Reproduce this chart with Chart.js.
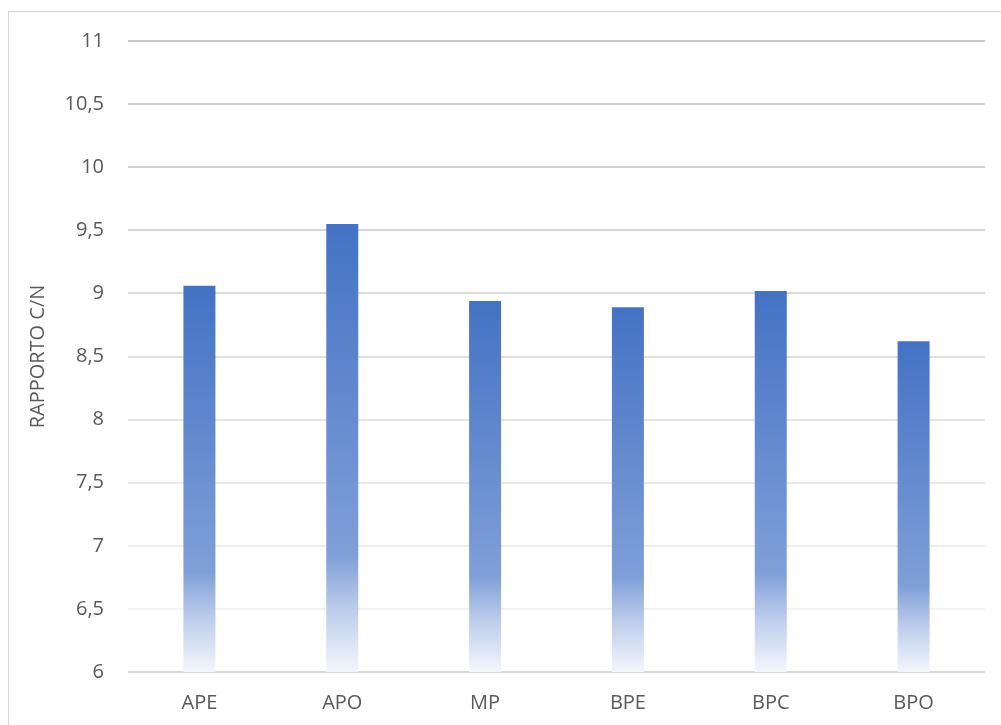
<!DOCTYPE html>
<html>
<head>
<meta charset="utf-8">
<script src="https://cdn.jsdelivr.net/npm/chart.js@4.4.1/dist/chart.umd.min.js"></script>
<style>
  html, body { margin: 0; padding: 0; width: 1001px; height: 725px; overflow: hidden; background: #fff; }
  #frame { position: absolute; left: 8px; top: 11px; width: 1100px; height: 800px;
           border-left: 1px solid #d6d6d6; border-top: 1px solid #d6d6d6; }
  #wrap { position: absolute; left: 0; top: 0; width: 1001px; height: 725px; }
</style>
</head>
<body>
<div id="frame"></div>
<div id="wrap"><canvas id="chart"></canvas></div>
<script>
// Sample categories and their C/N ratio
const categories = ['APE', 'APO', 'MP', 'BPE', 'BPC', 'BPO'];
const cnRatio = [9.06, 9.55, 8.94, 8.89, 9.02, 8.62];

// Value axis range
const yMin = 6;
const yMax = 11;
const yStep = 0.5;
const yTitle = 'RAPPORTO C/N';

const textColor = '#595959';
const fontFamily = '"Open Sans", "Liberation Sans", sans-serif';

// Vertical fill for each bar: solid blue at the top, fading out towards the base
function barFill(ctx) {
  const chart = ctx.chart;
  const yScale = chart.scales.y;
  if (!chart.chartArea || !yScale || ctx.parsed === undefined) return '#4472C4';
  const top = yScale.getPixelForValue(ctx.parsed.y);
  const bottom = yScale.getPixelForValue(yMin);
  if (!isFinite(top) || !isFinite(bottom) || bottom - top < 1) return '#4472C4';
  const g = chart.ctx.createLinearGradient(0, top, 0, bottom);
  g.addColorStop(0, '#4472C4');
  g.addColorStop(0.74, '#7F9FD8');
  g.addColorStop(0.86, '#BCCCEB');
  g.addColorStop(1, '#F4F7FC');
  return g;
}

// Grid lines get lighter towards the base; the base line stays visible
function gridColor(ctx) {
  const v = ctx.tick ? ctx.tick.value : yMax;
  if (v <= yMin) return '#d9d9d9';
  const t = Math.min(1, Math.max(0, (yMax - v) / (yMax - yMin - yStep)));
  const c = Math.round(200 + 42 * t);
  return `rgb(${c},${c},${c})`;
}

new Chart(document.getElementById('chart'), {
  type: 'bar',
  data: {
    labels: categories,
    datasets: [{
      data: cnRatio,
      backgroundColor: barFill,
      borderWidth: 0,
      barPercentage: 1,
      categoryPercentage: 0.224
    }]
  },
  options: {
    responsive: true,
    maintainAspectRatio: false,
    animation: false,
    layout: { padding: { top: 41, right: 16, bottom: 0, left: 0 } },
    plugins: { legend: { display: false }, tooltip: { enabled: false } },
    scales: {
      x: {
        grid: { display: false, drawTicks: false },
        border: { display: false },
        ticks: { color: textColor, font: { family: fontFamily, size: 20 }, padding: 19 },
        afterFit(scale) { scale.height = 53; }
      },
      y: {
        min: yMin,
        max: yMax,
        grid: { color: gridColor, lineWidth: 2, drawTicks: false },
        border: { display: false },
        ticks: {
          stepSize: yStep,
          color: textColor,
          padding: 24,
          font: { family: fontFamily, size: 20 },
          callback: (v) => String(v).replace('.', ',')
        },
        title: {
          display: true,
          text: yTitle,
          color: textColor,
          font: { family: fontFamily, size: 20 },
          padding: { top: 26, bottom: 0 }
        },
        afterFit(scale) { scale.width = 128; }
      }
    }
  }
});
</script>
</body>
</html>
